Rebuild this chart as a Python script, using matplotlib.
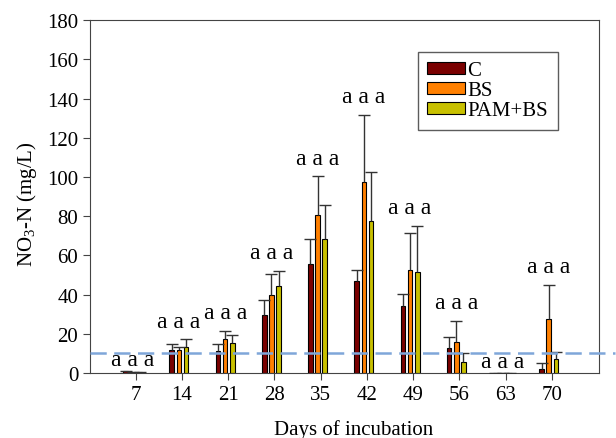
import matplotlib
matplotlib.use('Agg')
import matplotlib.pyplot as plt
import numpy as np

plt.rcParams['font.family'] = ['Liberation Serif', 'DejaVu Serif']
plt.rcParams['mathtext.fontset'] = 'custom'
plt.rcParams['mathtext.rm'] = 'Liberation Serif'
plt.rcParams['mathtext.it'] = 'Liberation Serif:italic'

#----------------------data----------------------------
days = ['7', '14', '21', '28', '35', '42', '49', '56', '63', '70']
c_mean = [0.8, 11.7, 11.2, 29.8, 55.8, 47.1, 34.4, 12.9, 0.0, 2.2]
c_err = [0.2, 3.2, 3.4, 7.5, 12.3, 5.6, 5.9, 5.6, 0.0, 2.7]
bs_mean = [0.5, 11.7, 17.6, 40.0, 80.8, 97.4, 52.7, 15.9, 0.0, 27.8]
bs_err = [0.2, 1.8, 3.9, 10.7, 19.5, 34.1, 18.6, 10.5, 0.0, 17.1]
pam_mean = [0.3, 13.4, 15.1, 44.2, 68.5, 77.4, 51.3, 5.4, 0.0, 7.0]
pam_err = [0.1, 3.7, 4.4, 7.8, 17.1, 25.2, 23.6, 4.8, 0.0, 3.5]
letters = ['a a a'] * 10
threshold = 10
series = [('C', c_mean, c_err, '#7a0000'),
          ('BS', bs_mean, bs_err, '#ff8000'),
          ('PAM+BS', pam_mean, pam_err, '#c8c000')]

#----------------------plot----------------------------
fig = plt.figure(figsize=(6.16, 4.39), dpi=100)
ax = fig.add_axes([0.146, 0.148, 0.827, 0.804])

x = np.arange(len(days))
shift = -0.065
step = 0.155
width = 0.1
for i, (name, mean, err, col) in enumerate(series):
    pos = x + shift + (i - 1) * step
    mean = np.array(mean)
    top = mean + np.array(err)
    ax.bar(pos, mean, width, color=col, edgecolor='black', linewidth=0.8,
           label=name, zorder=2)
    # upper error bars only, with a cap
    ax.vlines(pos, mean, top, color='#333333', linewidth=1.0, zorder=3)
    ax.plot(pos, top, linestyle='none', marker='_', markersize=9,
            markeredgewidth=1.0, color='#333333', zorder=3)

# significance letters above each group
tops = np.max([np.array(m) + np.array(e) for _, m, e, _ in series], axis=0)
for xi, t, lab in zip(x, tops, letters):
    pad = 4 if t > 5 else 0.5
    ax.text(xi + shift, t + pad, lab, ha='center', va='bottom', fontsize=17)

ax.axhline(threshold, xmin=0, xmax=1.03, color='#7fa6d9', linewidth=1.8,
           linestyle=(0, (6.5, 3)), clip_on=False, zorder=4)

ax.set_xlim(-0.99, 10.03)
ax.set_ylim(0, 180)
ax.set_yticks(np.arange(0, 181, 20))
ax.set_xticks(x)
ax.set_xticklabels(days)
ax.tick_params(labelsize=15, direction='out', length=5, color='#444444')
for s in ax.spines.values():
    s.set_color('#444444')
ax.set_xlabel('Days of incubation', fontsize=15)
ax.set_ylabel('NO$_3$-N (mg/L)', fontsize=15)
ax.xaxis.set_label_coords(0.517, -0.13)
ax.yaxis.set_label_coords(-0.10, 0.48)

leg = ax.legend(loc='upper left', bbox_to_anchor=(0.643, 0.910), fontsize=15,
                frameon=True, fancybox=False, edgecolor='#333333',
                handlelength=1.85, handleheight=0.48, handletextpad=0.1,
                labelspacing=0.05, borderpad=0.45, borderaxespad=0)
leg.get_frame().set_linewidth(1.0)

fig.savefig('out.png', dpi=100)
